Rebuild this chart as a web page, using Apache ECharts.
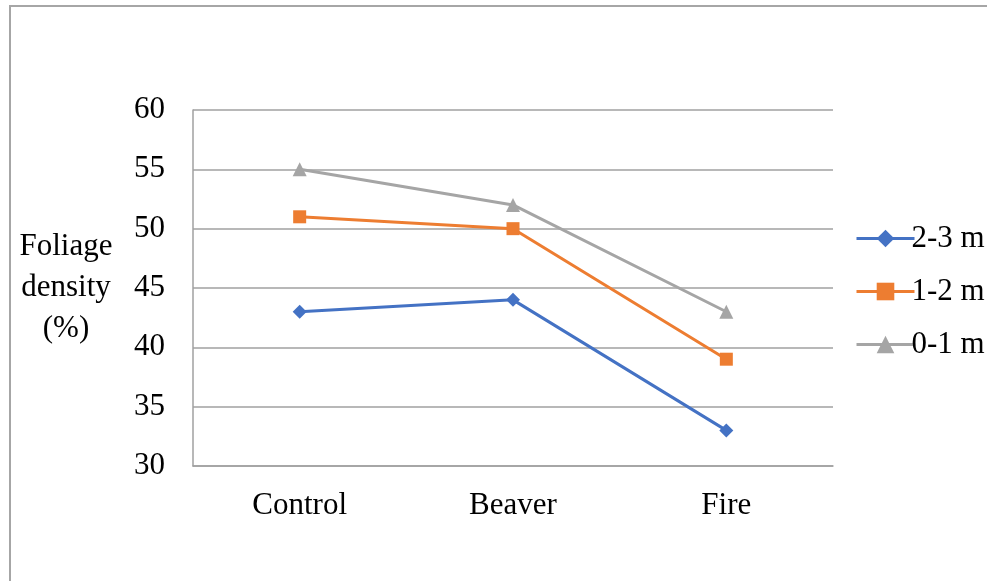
<!DOCTYPE html>
<html>
<head>
<meta charset="utf-8">
<script src="https://cdn.jsdelivr.net/npm/echarts@6/dist/echarts.min.js"></script>
<style>
  html, body { margin: 0; padding: 0; background: #fff; }
  #chart { width: 987px; height: 581px; }
</style>
</head>
<body>
<div id="chart"></div>
<script>
// Foliage density by treatment, for three height bands
const categories = ['Control', 'Beaver', 'Fire'];
const band23 = [43, 44, 33];   // 2-3 m
const band12 = [51, 50, 39];   // 1-2 m
const band01 = [55, 52, 43];   // 0-1 m
const yTicks = { min: 30, max: 60, interval: 5 };

const FONT = '"Liberation Serif", "Times New Roman", serif';
const chart = echarts.init(document.getElementById('chart'));

function lineSeries(name, data, color, symbol, size) {
  return {
    name, type: 'line', data,
    symbol, symbolSize: size,
    lineStyle: { color, width: 3 },
    itemStyle: { color },
    z: 3
  };
}

chart.setOption({
  animation: false,
  backgroundColor: '#fff',
  grid: { left: 193, right: 154, top: 110, bottom: 115, containLabel: false },
  xAxis: {
    type: 'category',
    data: categories,
    boundaryGap: true,
    axisLine: { show: true, lineStyle: { color: '#a0a0a0', width: 1.5 } },
    axisTick: { show: false },
    axisLabel: { fontFamily: FONT, fontSize: 31, color: '#000', margin: 24 }
  },
  yAxis: {
    type: 'value',
    min: yTicks.min, max: yTicks.max, interval: yTicks.interval,
    name: 'Foliage\ndensity\n(%)',
    nameLocation: 'middle',
    nameRotate: 0,
    nameGap: 127,
    nameTextStyle: { fontFamily: FONT, fontSize: 31, color: '#000', lineHeight: 41, align: 'center', padding: [0, 0, 14, 0] },
    axisLine: { show: true, lineStyle: { color: '#a0a0a0', width: 1.5 } },
    axisTick: { show: false },
    splitLine: { show: true, lineStyle: { color: '#a0a0a0', width: 1.5 } },
    axisLabel: { fontFamily: FONT, fontSize: 31, color: '#000', margin: 28 }
  },
  legend: {
    orient: 'vertical',
    left: 850, top: 218,
    itemGap: 22,
    itemWidth: 58, itemHeight: 22,
    lineStyle: { width: 3 },
    textStyle: { fontFamily: FONT, fontSize: 31, color: '#000', padding: [0, 0, 0, -8] },
    data: ['2-3 m', '1-2 m', '0-1 m']
  },
  series: [
    lineSeries('2-3 m', band23, '#4472C4', 'diamond', 14),
    lineSeries('1-2 m', band12, '#ED7D31', 'rect', 13),
    lineSeries('0-1 m', band01, '#A5A5A5', 'triangle', 14)
  ],
  graphic: [{
    type: 'rect',
    shape: { x: 10, y: 6, width: 1100, height: 700 },
    style: { fill: 'none', stroke: '#a6a6a6', lineWidth: 2 },
    silent: true
  }]
});
</script>
</body>
</html>
